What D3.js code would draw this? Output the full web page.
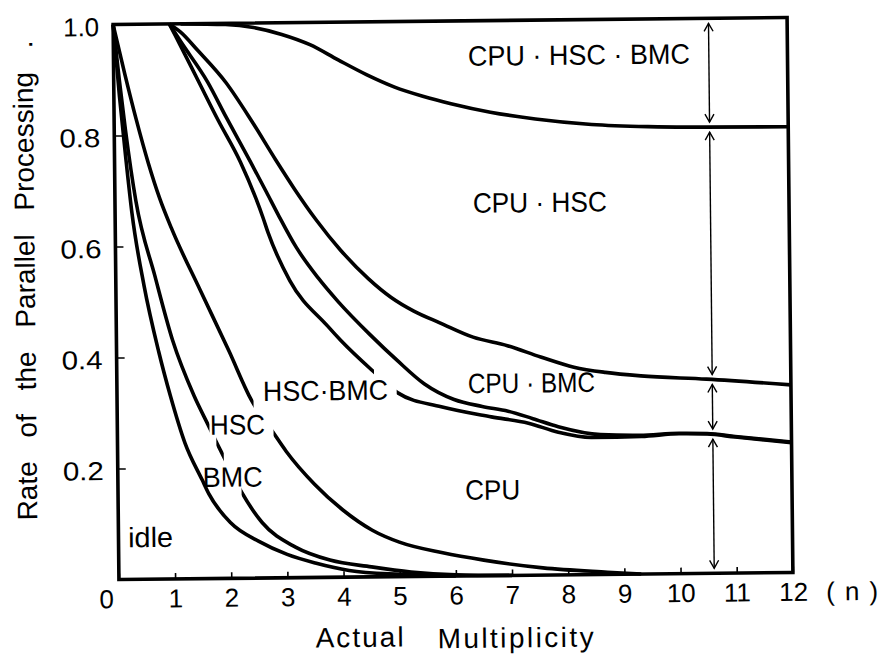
<!DOCTYPE html>
<html>
<head>
<meta charset="utf-8">
<script src="https://cdn.jsdelivr.net/npm/d3@7"></script>
<style>
  body { margin: 0; background: #fff; }
  svg { display: block; }
  text { font-family: "Liberation Sans", Arial, sans-serif; fill: #000; }
</style>
</head>
<body>
<svg id="chart" width="879" height="655"></svg>
<script>
// actual multiplicity n (x) vs rate of the parallel processing (y)
var xTicks = d3.range(0, 13);
var yTicks = [0.2, 0.4, 0.6, 0.8, 1.0];

// boundary curves, [n, rate]
var cpuHscBmcLine = [[1.2,1],[2,0.998],[2.5,0.992],[3,0.979],[3.5,0.96],[4,0.932],[4.5,0.905],[5,0.882],[5.5,0.865],[6,0.851],[6.7,0.835],[7.5,0.822],[8.5,0.811],[9.5,0.806],[10.5,0.804],[12,0.803]];
var cpuHscLine = [[1,1],[1.2,0.985],[1.5,0.952],[2,0.893],[2.44,0.825],[2.87,0.753],[3.2,0.7],[3.58,0.644],[4,0.59],[4.5,0.537],[4.9,0.503],[5.3,0.478],[5.77,0.456],[6.35,0.43],[6.96,0.414],[7.55,0.393],[8.14,0.374],[8.7,0.364],[9.33,0.357],[10.5,0.35],[12,0.338]];
var cpuBmcLine = [[1,1],[1.2,0.968],[1.67,0.895],[2,0.83],[2.42,0.75],[2.7,0.695],[2.9,0.655],[3.22,0.595],[3.6,0.54],[3.95,0.497],[4.52,0.436],[5,0.389],[5.47,0.347],[6,0.318],[6.5,0.305],[6.96,0.296],[7.4,0.282],[7.85,0.267],[8.6,0.252],[9.3,0.25],[10,0.253],[10.5,0.252],[11,0.246],[12,0.235]];
var hscBmcLine = [[1,1],[1.1,0.98],[1.5,0.898],[1.85,0.826],[2.24,0.75],[2.51,0.684],[2.63,0.65],[2.72,0.622],[3.1,0.535],[3.76,0.453],[4,0.426],[4.58,0.369],[5,0.331],[5.77,0.305],[6.66,0.286],[7.32,0.274],[7.85,0.257],[8.44,0.247],[9.33,0.248],[10,0.252],[10.5,0.251],[11,0.245],[12,0.234]];
var hscLine = [[0,1],[0.2,0.91],[0.39,0.83],[0.6,0.75],[0.8,0.685],[1,0.632],[1.5,0.52],[2,0.41],[2.39,0.321],[2.78,0.261],[3,0.228],[3.5,0.168],[4,0.121],[4.52,0.084],[5,0.062],[5.77,0.042],[6.5,0.028],[7.55,0.013],[8.7,0.004],[9.3,0]];
var bmcLine = [[0,1],[0.1,0.9],[0.2,0.81],[0.37,0.683],[0.7,0.545],[1,0.43],[1.37,0.33],[1.64,0.272],[1.76,0.246],[1.89,0.219],[2.2,0.155],[2.56,0.1],[3.15,0.055],[3.76,0.031],[4.5,0.018],[5.2,0.008],[6,0.002],[7,0]];
var idleLine = [[0,1],[0.1,0.87],[0.2,0.76],[0.3,0.66],[0.5,0.53],[0.75,0.41],[0.95,0.33],[1.2,0.245],[1.5,0.178],[1.62,0.152],[2,0.1],[2.5,0.066],[3,0.042],[3.5,0.026],[4.1,0.012],[5,0.004],[6,0]];

// where a curve is broken for a label, n ranges
var hscGaps = [[2.43, 2.78]];
var bmcGaps = [[1.64, 1.76], [1.89, 2.2]];
var hscBmcGaps = [[4.58, 4.98]];

var regionNames = ["CPU \u00b7 HSC \u00b7 BMC", "CPU \u00b7 HSC", "CPU \u00b7 BMC", "CPU", "HSC\u00b7BMC", "HSC", "BMC", "idle"];
var arrowAt = 10.6;

// ---- layout ----
var W = 879, H = 655;
var svg = d3.select('#chart');
svg.append('rect').attr('width', W).attr('height', H).attr('fill', '#fff');

var x = d3.scaleLinear().domain([0, 12]).range([116, 790]);
var y = d3.scaleLinear().domain([0, 1]).range([576, 21]);

// the printed figure sits a little askew
var g = svg.append('g').attr('transform', 'rotate(-0.6,453,298)');

// region label anchors [n, rate, width]
var regionPlace = [[6.31,0.919,222],[6.37,0.654,134],[6.25,0.329,127],[6.18,0.137,55],[2.6,0.319,125],[1.65,0.259,55],[1.51,0.165,60],[0.17,0.058,45]];

// axes
var xAxis = d3.axisBottom(x).tickValues(xTicks).tickSizeInner(-6).tickSizeOuter(0)
  .tickPadding(10).tickFormat(d3.format('d'));
var gx = g.append('g').attr('transform', 'translate(0,' + y(0) + ')').call(xAxis);
gx.select('.domain').remove();
gx.attr('font-family', null).attr('font-size', null);
gx.selectAll('.tick line').attr('stroke', '#000').attr('stroke-width', 1.6);
gx.selectAll('.tick text').attr('font-size', 26)
  .attr('dx', function(d) { return d === 0 ? -13 : 0; });
gx.append('text').attr('x', x(12) + 33).attr('y', 10).attr('dy', '0.71em')
  .attr('font-size', 26).attr('text-anchor', 'start')
  .attr('textLength', 52).attr('lengthAdjust', 'spacing').text('(n)');

var yAxis = d3.axisLeft(y).tickValues(yTicks).tickSizeInner(-8).tickSizeOuter(0)
  .tickPadding(14).tickFormat(d3.format('.1f'));
var gy = g.append('g').attr('transform', 'translate(' + x(0) + ',0)').call(yAxis);
gy.select('.domain').remove();
gy.attr('font-family', null).attr('font-size', null);
gy.selectAll('.tick line').attr('stroke', '#000').attr('stroke-width', 1.6);
gy.selectAll('.tick text').attr('font-size', 26).attr('dy', '0.42em')
  .attr('textLength', function(d) { return d === 1 ? 36 : 41; })
  .attr('lengthAdjust', 'spacingAndGlyphs');

// frame
g.append('rect')
  .attr('x', x(0)).attr('y', y(1))
  .attr('width', x(12) - x(0)).attr('height', y(0) - y(1))
  .attr('fill', 'none').attr('stroke', '#000').attr('stroke-width', 3.6);

// curves
var line = d3.line()
  .x(function(d) { return x(d[0]); })
  .y(function(d) { return y(d[1]); })
  .curve(d3.curveMonotoneX);

var defs = svg.append('defs');
function visibleParts(gaps) {
  var parts = [], from = -1;
  gaps.forEach(function(gp) { parts.push([from, gp[0]]); from = gp[1]; });
  parts.push([from, 13]);
  return parts;
}
function addClip(id, gaps) {
  var cp = defs.append('clipPath').attr('id', id);
  visibleParts(gaps).forEach(function(p) {
    cp.append('rect').attr('x', x(p[0])).attr('y', -100)
      .attr('width', x(p[1]) - x(p[0])).attr('height', H + 200);
  });
}
addClip('clip-hsc', hscGaps);
addClip('clip-bmc', bmcGaps);
addClip('clip-hscbmc', hscBmcGaps);

var curves = [
  { pts: cpuHscBmcLine },
  { pts: cpuHscLine },
  { pts: cpuBmcLine },
  { pts: hscBmcLine, clip: 'clip-hscbmc' },
  { pts: hscLine, clip: 'clip-hsc' },
  { pts: bmcLine, clip: 'clip-bmc' },
  { pts: idleLine }
];

g.append('g').selectAll('path')
  .data(curves)
  .enter()
  .append('path')
  .attr('d', function(d) { return line(d.pts); })
  .attr('clip-path', function(d) { return d.clip ? 'url(#' + d.clip + ')' : null; })
  .attr('fill', 'none')
  .attr('stroke', '#000')
  .attr('stroke-width', 3.6)
  .attr('stroke-linejoin', 'round');

// double arrows across the bands at n = arrowAt
function valueAt(pts, n) {
  var i = d3.bisector(function(d) { return d[0]; }).right(pts, n);
  if (i <= 0) return pts[0][1];
  if (i >= pts.length) return pts[pts.length - 1][1];
  var a = pts[i - 1], b = pts[i];
  return a[1] + (b[1] - a[1]) * (n - a[0]) / (b[0] - a[0]);
}
var levels = [1, valueAt(cpuHscBmcLine, arrowAt), valueAt(cpuHscLine, arrowAt), valueAt(cpuBmcLine, arrowAt), 0];
var bands = d3.pairs(levels);
var ax = x(arrowAt);
var arrows = g.append('g').attr('fill', 'none').attr('stroke', '#000').attr('stroke-width', 1.4);
bands.forEach(function(b) {
  var y0 = y(b[0]) + 5, y1 = y(b[1]) - 5;
  arrows.append('line').attr('x1', ax).attr('x2', ax).attr('y1', y0).attr('y2', y1);
  arrows.append('path').attr('d', 'M' + (ax - 4.5) + ',' + (y0 + 8) + 'L' + ax + ',' + y0 + 'L' + (ax + 4.5) + ',' + (y0 + 8));
  arrows.append('path').attr('d', 'M' + (ax - 4.5) + ',' + (y1 - 8) + 'L' + ax + ',' + y1 + 'L' + (ax + 4.5) + ',' + (y1 - 8));
});

// region labels
g.append('g').selectAll('text')
  .data(regionNames)
  .enter()
  .append('text')
  .attr('x', function(d, i) { return x(regionPlace[i][0]); })
  .attr('y', function(d, i) { return y(regionPlace[i][1]); })
  .attr('font-size', 28)
  .attr('textLength', function(d, i) { return regionPlace[i][2]; })
  .attr('lengthAdjust', 'spacingAndGlyphs')
  .text(function(d) { return d; });

// axis titles
g.append('text')
  .attr('transform', 'translate(35,276) rotate(-90)')
  .attr('text-anchor', 'middle')
  .attr('font-size', 28)
  .attr('word-spacing', 16)
  .text('Rate of the Parallel Processing .');

g.append('text').attr('x', 312).attr('y', 646).attr('font-size', 28)
  .attr('textLength', 88).attr('lengthAdjust', 'spacing').text('Actual');
g.append('text').attr('x', 434).attr('y', 648).attr('font-size', 28)
  .attr('textLength', 156).attr('lengthAdjust', 'spacing').text('Multiplicity');
</script>
</body>
</html>
